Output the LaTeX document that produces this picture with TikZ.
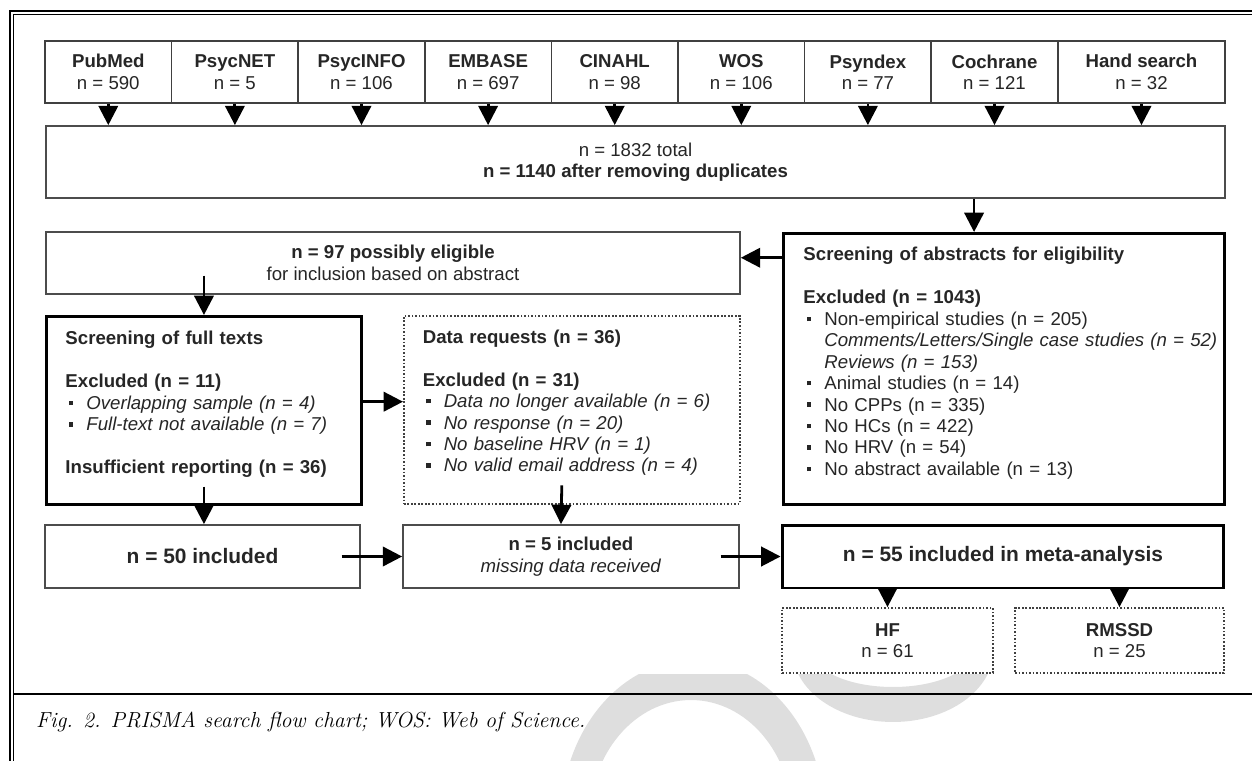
\documentclass[tikz,border=0pt]{standalone}
\usepackage{fontspec}
\setsansfont{Liberation Sans}
\usetikzlibrary{arrows.meta,positioning,calc}
\newcommand\bitem[1]{\makebox[11.9pt][l]{\hspace{1.8pt}\rule[2.4pt]{2.6pt}{2.6pt}}\mbox{#1}}
\newcommand\sitem[1]{\hspace*{11.9pt}\mbox{#1}}

\begin{document}
\begin{tikzpicture}[x=0.02cm,y=-0.02cm,
		every node/.style={font=\sffamily\fontsize{10.6}{12.2}\selectfont, text=black!85},
		srcbox/.style={draw=black!75, line width=1pt, fill=white, minimum width=2.532cm, minimum height=1.24cm, align=center, inner sep=0pt},
		plainbox/.style={draw=black!70, line width=1pt, fill=white, align=center, inner sep=0pt},
		mainbox/.style={draw=black, line width=1.7pt, fill=white, inner sep=0pt},
		dotbox/.style={draw=black!75, densely dotted, line width=1pt, fill=white, inner sep=0pt},
		arr/.style={-{Triangle[length=11pt,width=11pt]}, line width=1.6pt, black},
	]
	\useasboundingbox (0,0) rectangle (1252,761);
	\begin{scope}
		\clip (0,674) rectangle (1252,761);
		\fill[black!13, even odd rule] (693,820) ellipse [x radius=2.64cm, y radius=3.2cm] (691,820) ellipse [x radius=2.03cm, y radius=2.4cm];
		\fill[black!13, even odd rule] (893,650) ellipse [x radius=2.01cm, y radius=1.44cm] (893,650) ellipse [x radius=1.62cm, y radius=0.74cm];
	\end{scope}
	\draw[line width=1.4pt] (10,761) -- (10,11) -- (1252,11);
	\draw[line width=0.6pt] (13.5,761) -- (13.5,14.5) -- (1252,14.5);
	\draw[line width=1.5pt] (13.5,694) -- (1252,694);

	\foreach \nm/\lab/\num [count=\i] in {pubmed/PubMed/590, psycnet/PsycNET/5, psycinfo/PsycINFO/106, embase/EMBASE/697, cinahl/CINAHL/98, wos/WOS/106, psyndex/Psyndex/77, cochrane/Cochrane/121}
		\node[srcbox] (\nm) at ({45+126.6*(\i-0.5)},72) {\textbf{\lab}\\n = \num};
	\node[srcbox, minimum width=3.34cm] (hand) at (1141.5,72) {\textbf{Hand search}\\n = 32};
	\node[plainbox, minimum width=23.58cm, minimum height=1.44cm] (total) at (635.5,162) {n = 1832 total\\\textbf{n = 1140 after removing duplicates}};
	\foreach \nm in {pubmed, psycnet, psycinfo, embase, cinahl, wos, psyndex, cochrane, hand}
		\draw[arr] (\nm.south) -- (\nm.south |- total.north);

	\node[mainbox, anchor=north west, text width=8.02cm, inner xsep=0.4cm, text height=0.55cm, text depth=4.87cm, align=left] (abstr) at (782,232) {%
		\textbf{Screening of abstracts for eligibility}\\[12.2pt]
		\textbf{Excluded (n = 1043)}\\
		\bitem{Non-empirical studies (n = 205)}\\
		\sitem{\textit{Comments/Letters/Single case studies (n = 52)}}\\
		\sitem{\textit{Reviews (n = 153)}}\\
		\bitem{Animal studies (n = 14)}\\
		\bitem{No CPPs (n = 335)}\\
		\bitem{No HCs (n = 422)}\\
		\bitem{No HRV (n = 54)}\\
		\bitem{No abstract available (n = 13)}};
	\node[plainbox, minimum width=13.88cm, minimum height=1.24cm] (elig) at (393,263) {\textbf{n = 97 possibly eligible}\\for inclusion based on abstract};
	\coordinate (abin) at ([xshift=-17pt]abstr.north);
	\draw[arr] (abin |- total.south) -- (abin);
	\draw[arr] ([yshift=3pt]elig.east -| abstr.west) -- ([yshift=3pt]elig.east);

	\node[mainbox, anchor=north west, text width=5.54cm, inner xsep=0.38cm, text height=0.57cm, text depth=3.19cm, align=left] (full) at (45,315) {%
		\textbf{Screening of full texts}\\[12.2pt]
		\textbf{Excluded (n = 11)}\\
		\bitem{\textit{Overlapping sample (n = 4)}}\\
		\bitem{\textit{Full-text not available (n = 7)}}\\[12.2pt]
		\textbf{Insufficient reporting (n = 36)}};
	\node[dotbox, anchor=north west, text width=5.96cm, inner xsep=0.38cm, text height=0.55cm, text depth=3.21cm, align=left] (data) at (403,315) {%
		\textbf{Data requests (n = 36)}\\[12.2pt]
		\textbf{Excluded (n = 31)}\\
		\bitem{\textit{Data no longer available (n = 6)}}\\
		\bitem{\textit{No response (n = 20)}}\\
		\bitem{\textit{No baseline HRV (n = 1)}}\\
		\bitem{\textit{No valid email address (n = 4)}}};
	\draw[arr] ([yshift=11pt]elig.south -| full.north) -- (full.north);
	\draw[arr] ([yshift=5pt]full.east) -- ([yshift=5pt]full.east -| data.west);

	\node[plainbox, minimum width=6.3cm, minimum height=1.26cm, font=\sffamily\fontsize{11.9}{14}\selectfont] (incl) at (202.5,556.5) {\textbf{n = 50 included}};
	\node[plainbox, minimum width=6.72cm, minimum height=1.26cm] (recv) at (571,556.5) {\textbf{n = 5 included}\\\textit{missing data received}};
	\node[mainbox, minimum width=8.84cm, minimum height=1.26cm, font=\sffamily\fontsize{11.9}{14}\selectfont] (meta) at (1003,556.5) {\textbf{n = 55 included in meta-analysis}};
	\draw[arr] ([yshift=11pt]full.south) -- (full.south |- incl.north);
	\draw[arr] ([yshift=11pt,xshift=-5.7pt]data.south) -- ([xshift=-5.7pt]recv.north);
	\draw[arr] ([xshift=-11pt]incl.east) -- (recv.west);
	\draw[arr] ([xshift=-11pt]recv.east) -- (meta.west);

	\node[dotbox, minimum width=4.22cm, minimum height=1.3cm, align=center] (hf) at (887.5,640.5) {\textbf{HF}\\n = 61};
	\node[dotbox, minimum width=4.18cm, minimum height=1.3cm, align=center] (rmssd) at (1119.5,640.5) {\textbf{RMSSD}\\n = 25};
	\draw[arr] (meta.south -| hf.north) -- (hf.north);
	\draw[arr] (meta.south -| rmssd.north) -- (rmssd.north);

	\node[anchor=west, font=\itshape\fontsize{12.4}{14}\selectfont\addfontfeature{LetterSpace=4.5}, text=black] (cap) at (30,722) {Fig. 2. PRISMA search flow chart; WOS: Web of Science.};
\end{tikzpicture}
\end{document}
